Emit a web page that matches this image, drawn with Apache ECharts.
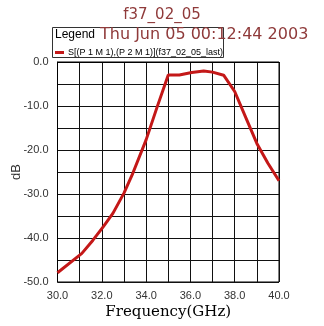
<!DOCTYPE html>
<html><head><meta charset="utf-8">
<script src="https://cdn.jsdelivr.net/npm/echarts@6/dist/echarts.min.js"></script>
<style>html,body{margin:0;padding:0;background:#fff}#c{width:324px;height:326px}</style>
</head><body><div id="c"></div>
<script>
var freqGHz = [30.0, 31.1, 31.6, 32.07, 32.5, 33.0, 33.4, 34.0, 34.5, 35.0, 35.5, 36.06, 36.6, 37.0, 37.5, 38.0, 38.55, 39.0, 39.5, 40.0];
var s21dB   = [-47.9, -43.5, -40.5, -37.4, -34.4, -29.8, -25.3, -17.7, -10.2, -2.95, -2.95, -2.4, -2.05, -2.3, -3.0, -6.7, -13.2, -18.5, -23.0, -27.0];
var seriesName = 'S[(P 1 M 1),(P 2 M 1)](f37_02_05_last)';
var titleText = 'f37_02_05';
var dateText = 'Thu Jun 05 00:12:44 2003';

var chart = echarts.init(document.getElementById('c'), null, {renderer: 'canvas'});
chart.setOption({
  animation: false,
  backgroundColor: '#fff',
  graphic: [
    {type: 'text', z: 10, left: 'center', top: 8, style: {text: titleText, fill: '#8f3a3a', font: '15px DejaVu Sans', x: 0}},
    {type: 'rect', z: 0, shape: {x: 52.5, y: 27.5, width: 171, height: 30}, style: {fill: '#fff', stroke: '#333', lineWidth: 1}},
    {type: 'text', z: 10, left: 55, top: 29, style: {text: 'Legend', fill: '#000', font: '12px Liberation Sans'}},
    {type: 'text', z: 10, left: 100, top: 27, style: {text: dateText, fill: '#8f3a3a', font: '16px DejaVu Sans'}}
  ],
  legend: {
    left: 55, top: 48, itemWidth: 9, itemHeight: 3, itemGap: 4, icon: 'rect',
    padding: 0,
    textStyle: {color: '#000', fontSize: 9, fontFamily: 'Liberation Sans', padding: [0,0,0,-1]},
    data: [seriesName]
  },
  grid: {left: 57.5, right: 45, top: 62, bottom: 44, show: true, borderColor: '#000', borderWidth: 1,
    containLabel: false, outerBoundsMode: 'none'},
  xAxis: {
    type: 'value', min: 30, max: 40, interval: 1,
    name: 'Frequency(GHz)', nameLocation: 'middle', nameGap: 23, nameMoveOverlap: false,
    nameTextStyle: {color: '#000', fontSize: 15, fontFamily: 'DejaVu Serif'},
    axisLine: {show: true, lineStyle: {color: '#000'}},
    axisTick: {show: false},
    axisLabel: {color: '#333', fontSize: 11, fontFamily: 'Liberation Sans', margin: 8,
      formatter: function(v){ return (Math.round(v) % 2 === 0) ? v.toFixed(1) : ''; }},
    splitLine: {show: true, lineStyle: {color: '#111', width: 1}}
  },
  yAxis: {
    type: 'value', min: -50, max: 0, interval: 5,
    name: 'dB', nameLocation: 'middle', nameGap: 35, nameRotate: 90, nameMoveOverlap: false,
    nameTextStyle: {color: '#333', fontSize: 13, fontFamily: 'Liberation Sans'},
    axisLine: {show: true, lineStyle: {color: '#000'}},
    axisTick: {show: false},
    axisLabel: {color: '#333', fontSize: 11, fontFamily: 'Liberation Sans', margin: 9,
      formatter: function(v){ return (Math.round(v) % 10 === 0) ? v.toFixed(1) : ''; }},
    splitLine: {show: true, lineStyle: {color: '#111', width: 1}}
  },
  series: [{
    name: seriesName, type: 'line', showSymbol: false, symbol: 'none',
    data: freqGHz.map(function(f, i){ return [f, s21dB[i]]; }),
    lineStyle: {color: '#c41818', width: 3},
    itemStyle: {color: '#c41818'}, z: 5
  }]
});
</script></body></html>
